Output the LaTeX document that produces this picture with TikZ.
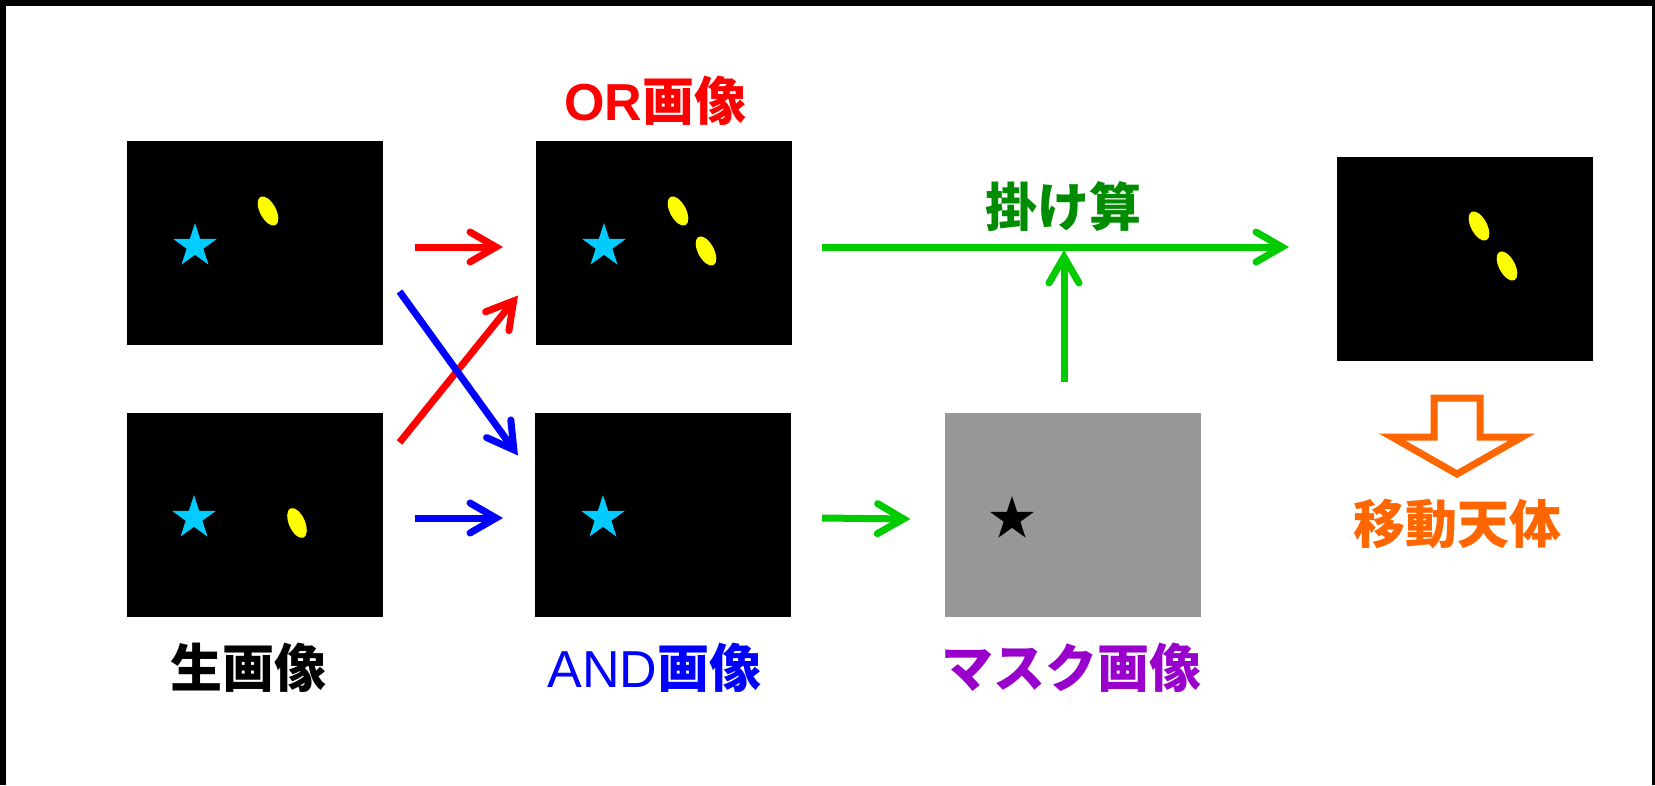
\documentclass[tikz,border=0pt]{standalone}
\usepackage{fontspec}
\setmainfont{Liberation Sans}
\newfontfamily\lat{Liberation Sans}
\newfontfamily\cjk{Noto Sans CJK JP}
\usetikzlibrary{arrows.meta,shapes.geometric,calc}
\definecolor{cstar}{HTML}{00CCFF}
\definecolor{cyel}{HTML}{FFFF00}
\definecolor{cgray}{HTML}{979797}
\definecolor{cgreen}{HTML}{00CC00}
\definecolor{cdgreen}{HTML}{008C00}
\definecolor{cpurple}{HTML}{9900CC}
\definecolor{corange}{HTML}{FF6600}
\definecolor{cred}{HTML}{FF0000}
\definecolor{cblue}{HTML}{0000FF}
\begin{document}
\begin{tikzpicture}[x=1pt,y=-1pt,
  img/.style={fill=black, minimum width=256pt, minimum height=204pt, inner sep=0pt, outer sep=0pt},
  starc/.style={star, star points=5, star point ratio=2.618, minimum size=46pt, inner sep=0pt, outer sep=0pt, fill=cstar},
  yel/.style={fill=cyel},
  arr/.style={line width=7pt, -{Straight Barb[length=26pt 0 0,width=30pt 0 0,line cap=round,line join=miter]}},
  lbl/.style={font=\fontsize{52}{60}\selectfont\cjk\bfseries, inner sep=0pt}]
\useasboundingbox (0,0) rectangle (1655,785);
\fill[white] (0,0) rectangle (1655,785);
\fill[black] (0,0) rectangle (1655,6);
\fill[black] (0,0) rectangle (6,785);
\fill[black] (1652,0) rectangle (1655,785);

% image boxes
\node[img] (raw1) at (254.5,242.5) {};
\node[img] (raw2) at (254.5,514.5) {};
\node[img] (or)   at (664,242.5) {};
\node[img] (and)  at (663,514.5) {};
\node[img, fill=cgray] (mask) at (1072.5,514.5) {};
\node[img] (res)  at (1465,258.5) {};

% contents
\node[starc] (s1) at (195,246) {};
\fill[yel, rotate around={28:(268,211)}] (268,211) ellipse (8 and 16);
\node[starc] (s2) at (194,518) {};
\fill[yel, rotate around={24:(297,523)}] (297,523) ellipse (8 and 16);
\node[starc] (s3) at (604,246) {};
\fill[yel, rotate around={28:(678,211)}] (678,211) ellipse (8 and 16);
\fill[yel, rotate around={28:(706,251)}] (706,251) ellipse (8 and 16);
\node[starc] (s4) at (603,518) {};
\node[starc, fill=black] (s5) at (1012,519) {};
\fill[yel, rotate around={28:(1479,226)}] (1479,226) ellipse (8 and 16);
\fill[yel, rotate around={28:(1507,266)}] (1507,266) ellipse (8 and 16);

% arrows
\draw[arr, cred] ($(raw1.east)+(32,4.5)$) -- ($(or.west)+(-33,4.5)$);
\draw[arr, cblue] ($(raw2.east)+(32,3.5)$) -- ($(and.west)+(-32,3.5)$);
\draw[arr, cred] ($(raw2.north east)+(17,30)$) -- ($(or.south west)+(-18,-49)$);
\draw[arr, cblue] ($(raw1.south east)+(17,-53)$) -- ($(and.north west)+(-17,43)$);
\coordinate (g1) at ($(or.east)+(30,4.5)$);
\draw[arr, cgreen] (g1) -- ($(g1 -| res.west)+(-48,0)$);
\draw[arr, cgreen] ($(and.east)+(31,3.5)$) -- ($(mask.west)+(-34,4.5)$);
\coordinate (g2) at ($(mask.north)+(-8.5,-31)$);
\draw[arr, cgreen] (g2) -- ($(g2 |- g1)+(0,3)$);

% hollow down arrow
\draw[corange, line width=7pt, miter limit=10, fill=white]
  (1434,398) -- (1480,398) -- (1480,437) -- (1522,437) -- (1457,474)
  -- (1392,437) -- (1434,437) -- cycle;

% labels
\node[lbl, text=cred] (lor) at (655,101) {{\lat\bfseries OR}画像};
\node[lbl, text=cdgreen] (lmul) at (1063,207) {掛け算};
\node[lbl, text=black] (lraw) at (248,668) {生画像};
\node[lbl, text=cblue] (land) at (654.5,668) {{\lat\mdseries AND}画像};
\node[lbl, text=cpurple] (lmask) at (1071,668) {マスク画像};
\node[lbl, text=corange] (lmov) at (1457,524) {移動天体};
\end{tikzpicture}
\end{document}
